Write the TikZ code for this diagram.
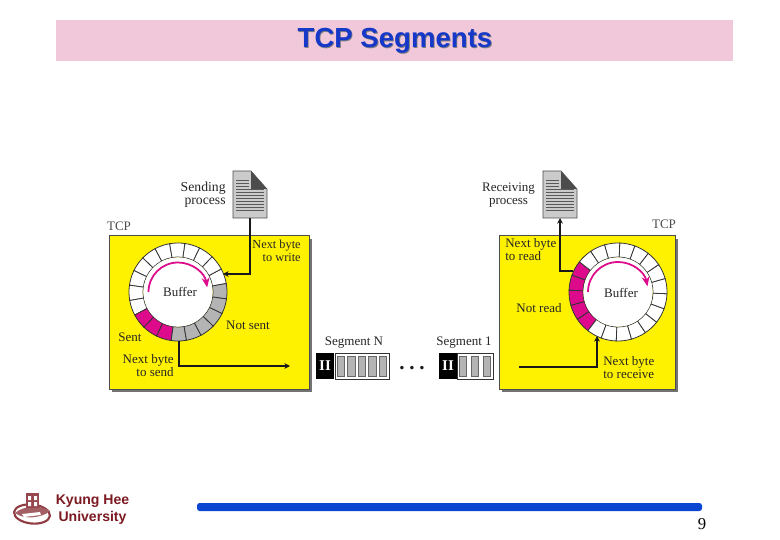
\documentclass[tikz,border=0pt]{standalone}
\usepackage{fontspec}
\setmainfont{Liberation Serif}
\setsansfont{Liberation Sans}
\usepackage{xcolor}
\usetikzlibrary{arrows.meta,positioning,calc}
\definecolor{bandpink}{HTML}{F0C8DA}
\definecolor{titleblue}{HTML}{1538C8}
\definecolor{boxyellow}{HTML}{FFF200}
\definecolor{ringpink}{HTML}{DE0A8C}
\definecolor{ringgray}{HTML}{B4B4B4}
\definecolor{barblue}{HTML}{0B46D2}
\definecolor{schoolred}{HTML}{7C1A22}

\begin{document}
\begin{tikzpicture}[
  x=0.02cm, y=-0.02cm,
  lbl/.style={font=\fontsize{7.4}{7.4}\selectfont, text=black!85, inner sep=0pt, align=center},
  tcpbox/.style={draw=black!70, fill=boxyellow, line width=0.5pt},
  shade/.style={fill=black!55, draw=none},
  cell/.style={draw=black!80, line width=0.45pt},
  link/.style={draw=black!90, line width=0.7pt, -{Stealth[length=3.2pt,width=3.2pt]}},
  doc/.style={fill=ringgray!70, draw=black!70, line width=0.3pt},
]
\useasboundingbox (0,0) rectangle (780,540);
\fill[white] (0,0) rectangle (780,540);

% title
\fill[bandpink] (56,20) rectangle (733,61);
\node[font=\sffamily\bfseries\fontsize{15.7}{16}\selectfont, text=black!50] (titleshade) at (395.8,41.8) {TCP Segments};
\node[font=\sffamily\bfseries\fontsize{15.7}{16}\selectfont, text=titleblue] (title) at (395,41) {TCP Segments};

% boxes
\fill[shade] (112,239) rectangle (312,392);
\draw[tcpbox] (109,235) rectangle (309,389);
\fill[shade] (502,239) rectangle (678,392);
\draw[tcpbox] (499,235) rectangle (675,389);

% left ring
\coordinate (ringL) at (178,292);
\foreach \i in {0,...,19} {
  \pgfmathsetmacro{\a}{-(10+18*\i)}
  \pgfmathsetmacro{\b}{\a-18}
  \pgfmathtruncatemacro{\c}{\i<11 ? 0 : (\i<14 ? 1 : 2)}
  \ifcase\c\relax
    \def\cellcol{white}\or\def\cellcol{ringpink}\or\def\cellcol{ringgray}\fi
  \draw[cell, fill=\cellcol] ($(ringL)+(\a:35)$) arc[start angle=\a, end angle=\b, radius=35]
    -- ($(ringL)+(\b:49)$) arc[start angle=\b, end angle=\a, radius=49] -- cycle;
}
\fill[white] (ringL) circle[radius=34.6];
\draw[ringpink, line width=1pt, -{Stealth[length=5.5pt,width=4.5pt]}]
  ($(ringL)+(-180:29.5)$) arc[start angle=-180, end angle=-9, radius=29.5];
\node[lbl] (bufL) at (180,292) {Buffer};

% right ring
\coordinate (ringR) at (618,292);
\foreach \i in {0,...,19} {
  \pgfmathsetmacro{\a}{-(142+18*\i)}
  \pgfmathsetmacro{\b}{\a-18}
  \pgfmathtruncatemacro{\c}{\i<5 ? 1 : 0}
  \ifcase\c\relax
    \def\cellcol{white}\or\def\cellcol{ringpink}\fi
  \draw[cell, fill=\cellcol] ($(ringR)+(\a:35)$) arc[start angle=\a, end angle=\b, radius=35]
    -- ($(ringR)+(\b:49)$) arc[start angle=\b, end angle=\a, radius=49] -- cycle;
}
\fill[white] (ringR) circle[radius=34.6];
\draw[ringpink, line width=1pt, -{Stealth[length=5.5pt,width=4.5pt]}]
  ($(ringR)+(-180:30)$) arc[start angle=-180, end angle=-11, radius=30];
\node[lbl] (bufR) at (621,293) {Buffer};

% documents
\foreach \dx/\nm in {0/sendDoc,310/recvDoc} {
  \begin{scope}[xshift=\dx*0.02cm]
    \filldraw[doc] (233,171) -- (251,171) -- (267,189) -- (267,218) -- (233,218) -- cycle;
    \fill[black!70] (251,171) -- (267,189) -- (251,189) -- cycle;
    \foreach \k in {0,...,10}
      \draw[black!65, line width=0.3pt] (236,{180+\k*3}) -- ({\k<3 ? 249 : 264},{180+\k*3});
  \end{scope}
  \coordinate (\nm) at ({250+\dx},218);
}

% labels
\node[lbl, text=black!70] (tcpL) at (119,226) {TCP};
\node[lbl, text=black!70] (tcpR) at (664,224) {TCP};
\node[lbl, font=\fontsize{7.8}{7.4}\selectfont, align=right, anchor=east] (sending) at (226,194.5) {Sending\\process};
\node[lbl, align=center] (receiving) at (508.5,195) {Receiving\\process};
\node[lbl, font=\fontsize{7}{7.4}\selectfont, align=right, anchor=east] (nextwrite) at (301,250.5) {Next byte\\to write};
\node[lbl] (notsent) at (248,325) {Not sent};
\node[lbl, anchor=west] (sent) at (118,337) {Sent};
\node[lbl, align=right, anchor=east] (nextsend) at (174,366) {Next byte\\to send};
\node[lbl, align=left, anchor=west] (nextread) at (505,249.5) {Next byte\\to read};
\node[lbl] (notread) at (539,308) {Not read};
\node[lbl, align=left, anchor=west] (nextrecv) at (603,367.5) {Next byte\\to receive};
\node[lbl] (segN) at (354,343) {Segment N};
\node[lbl] (seg1) at (464,343) {Segment 1};
\node[font=\bfseries\fontsize{12}{12}\selectfont, text=black!90, anchor=base, inner sep=0pt] (dots) at (412,369) {.\hspace{2.7pt}.\hspace{2.7pt}.};

% connectors
\coordinate (writeTip) at (223,274);
\coordinate (writeBend) at (250,274);
\coordinate (sendOut) at (179,341);
\coordinate (sendBend) at (179,366);
\coordinate (sendTip) at (290,366);
\coordinate (readOut) at (573,271);
\coordinate (readBend) at (560,271);
\coordinate (recvTail) at (519,367);
\coordinate (recvBend) at (597,367);
\coordinate (recvTip) at (597,336);
\draw[link] (sendDoc) -- (writeBend) -- (writeTip);
\draw[link] (sendOut) -- (sendBend) -- (sendTip);
\draw[link] (readOut) -- (readBend) -- (recvDoc);
\draw[link] (recvTail) -- (recvBend) -- (recvTip);

% segments
\fill[black] (316,353) rectangle (334,379);
\node[font=\bfseries\fontsize{8.5}{9}\selectfont, text=white, inner sep=0pt] (hdrN) at (325,366) {II};
\draw[black!80, line width=0.4pt] (335,353) rectangle (389,379);
\foreach \k in {0,...,4}
  \filldraw[fill=ringgray, draw=black!60, line width=0.4pt] ({337+\k*10.5},356) rectangle ++(7.7,20);
\fill[black] (439,353) rectangle (457,379);
\node[font=\bfseries\fontsize{8.5}{9}\selectfont, text=white, inner sep=0pt] (hdr1) at (448,366) {II};
\draw[black!80, line width=0.4pt] (457,353) rectangle (493,379);
\foreach \k in {0,1,2}
  \filldraw[fill=ringgray, draw=black!60, line width=0.4pt] ({459+\k*12},356) rectangle ++(7.7,20);

% footer
\fill[barblue, rounded corners=1.5pt] (197,503) rectangle (702,511);
\node[font=\fontsize{9.5}{10}\selectfont, text=black] (pageno) at (702,524.5) {9};
\node[font=\sffamily\bfseries\fontsize{8}{9.6}\selectfont, text=schoolred, align=center, inner sep=0pt] (school) at (92.5,510) {Kyung Hee\\University};

% logo
\draw[schoolred!85, line width=1.2pt, rotate around={-6:(32,514)}] (32,514) ellipse[x radius=18, y radius=9.5];
\fill[schoolred!70] (15,513) .. controls (24,505) and (42,505) .. (50,511) .. controls (42,518) and (24,520) .. cycle;
\fill[white] (22,514) -- (40,512) -- (41,515) -- (24,517) -- cycle;
\fill[schoolred!80] (26,493) rectangle (39,508);
\fill[white] (28,496) rectangle (31,500) (34,496) rectangle (37,500) (28,502) rectangle (31,506) (34,502) rectangle (37,506);
\end{tikzpicture}
\end{document}
